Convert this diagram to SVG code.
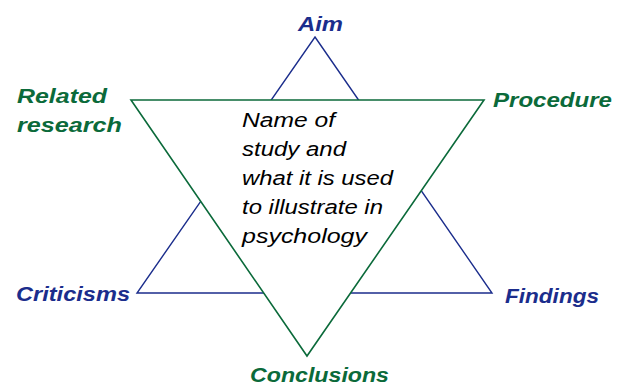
<svg xmlns="http://www.w3.org/2000/svg" width="624" height="385" viewBox="0 0 624 385">
  <style>
    .lbl { font-family: "Liberation Sans", Arial, sans-serif; font-size: 21px; font-weight: bold; font-style: italic; }
    .blue { fill: #1b2d8c; }
    .green { fill: #0b6a3a; }
    .center { font-family: "Liberation Sans", Arial, sans-serif; font-size: 20px; font-style: italic; fill: #000; }
    .tri-blue { fill: none; stroke: #1b2d8c; stroke-width: 1.4; }
    .tri-green { fill: #ffffff; stroke: #0b6a3a; stroke-width: 1.6; }
  </style>
  <rect width="624" height="385" fill="#ffffff"/>
  <g id="triangle-up">
    <polygon class="tri-blue" points="315,37 492,293 137,293"/>
  </g>
  <g id="triangle-down">
    <polygon class="tri-green" points="131,100 484,100 307,356"/>
  </g>
  <g id="center-node">
    <text class="center" x="242" y="127" textLength="93" lengthAdjust="spacingAndGlyphs">Name of</text>
    <text class="center" x="242" y="156" textLength="104" lengthAdjust="spacingAndGlyphs">study and</text>
    <text class="center" x="242" y="185" textLength="151" lengthAdjust="spacingAndGlyphs">what it is used</text>
    <text class="center" x="242" y="214" textLength="141" lengthAdjust="spacingAndGlyphs">to illustrate in</text>
    <text class="center" x="242" y="243" textLength="125" lengthAdjust="spacingAndGlyphs">psychology</text>
  </g>
  <g id="aim">
    <text class="lbl blue" x="298" y="31" textLength="45" lengthAdjust="spacingAndGlyphs">Aim</text>
  </g>
  <g id="procedure">
    <text class="lbl green" x="493" y="107" textLength="119" lengthAdjust="spacingAndGlyphs">Procedure</text>
  </g>
  <g id="findings">
    <text class="lbl blue" x="505" y="303" textLength="94" lengthAdjust="spacingAndGlyphs">Findings</text>
  </g>
  <g id="conclusions">
    <text class="lbl green" x="250" y="382" textLength="139" lengthAdjust="spacingAndGlyphs">Conclusions</text>
  </g>
  <g id="criticisms">
    <text class="lbl blue" x="16" y="301" textLength="114" lengthAdjust="spacingAndGlyphs">Criticisms</text>
  </g>
  <g id="related-research">
    <text class="lbl green" x="17" y="103" textLength="90" lengthAdjust="spacingAndGlyphs">Related</text>
    <text class="lbl green" x="17" y="132" textLength="105" lengthAdjust="spacingAndGlyphs">research</text>
  </g>
</svg>
